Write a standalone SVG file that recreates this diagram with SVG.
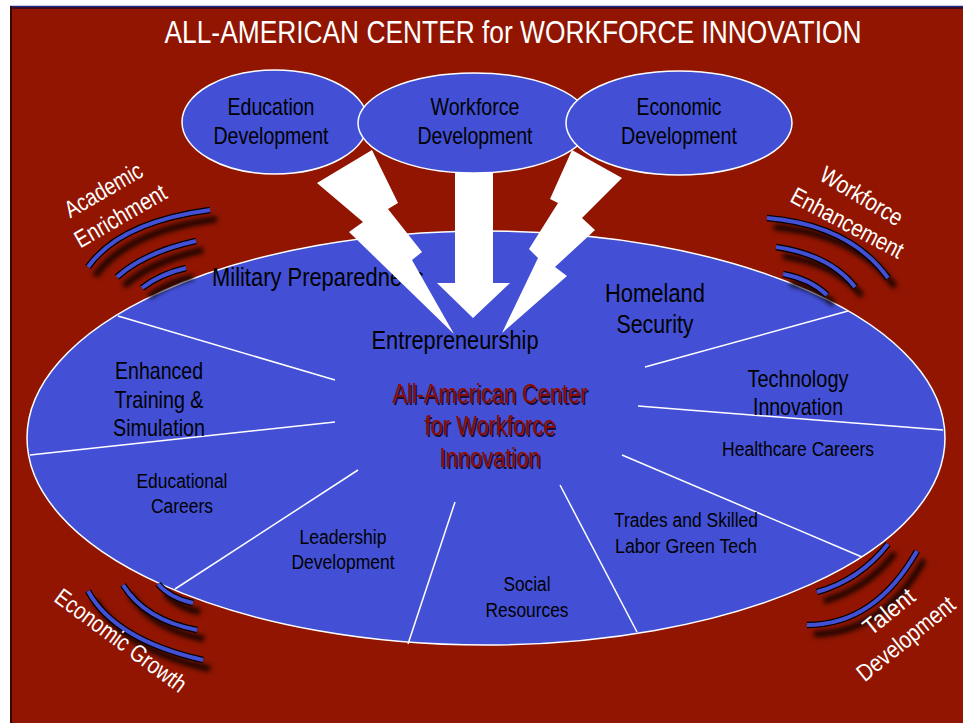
<svg xmlns="http://www.w3.org/2000/svg" xmlns:xlink="http://www.w3.org/1999/xlink" width="963" height="723" viewBox="0 0 963 723">
<style>
.bg{fill:#911500}
.oval{fill:#4350D6;stroke:#ffffff;stroke-width:1.5}
.div{stroke:#ffffff;stroke-width:1.5;fill:none}
.bolt{fill:#ffffff}
text{font-family:"Liberation Sans Narrow","Liberation Sans",Arial,sans-serif;text-anchor:middle}
.k{fill:#000000}
.w{fill:#ffffff}
.c{fill:#8c0d00}
.cs{fill:#1c0c34}
.bs{fill:none;stroke:#000;stroke-width:6;opacity:0.85}
.bo{fill:none;stroke:#000;stroke-width:6.5}
.bi{fill:none;stroke:#4350D6;stroke-width:4}
</style>
<defs>
<filter id="blur" x="-20%" y="-20%" width="140%" height="140%"><feGaussianBlur stdDeviation="2.5"/></filter>
<path id="a1" d="M88,267 Q120,222 210,210"/>
<path id="a2" d="M117,277 Q145,252 196,241"/>
<path id="a3" d="M142,288 Q160,274 186,268"/>
<path id="b1" d="M767,218 Q850,225 888,278"/>
<path id="b2" d="M776,247 Q830,255 855,287"/>
<path id="b3" d="M783,274 Q810,279 827,295"/>
<path id="c1" d="M88,591 Q115,640 203,660"/>
<path id="c2" d="M123,585 Q145,620 197,630"/>
<path id="c3" d="M158,584 Q170,598 193,603"/>
<path id="d1" d="M817,592 Q860,580 888,544"/>
<path id="d2" d="M807,625 Q875,625 917,551"/>
</defs>

<rect x="0" y="0" width="963" height="723" fill="#ffffff"/>
<rect class="bg" x="10" y="6" width="953" height="717"/>
<line x1="10" y1="6.5" x2="963" y2="6.5" stroke="#1a2a9a" stroke-width="1.5"/>
<line x1="10" y1="8" x2="963" y2="8" stroke="#2a0c20" stroke-width="1.5"/>
<line x1="11" y1="6" x2="11" y2="723" stroke="#3a0600" stroke-width="2"/>

<text class="w" x="513" y="43" font-size="31" textLength="697" lengthAdjust="spacingAndGlyphs">ALL-AMERICAN CENTER for WORKFORCE INNOVATION</text>

<g id="main-oval">
<ellipse class="oval" cx="486" cy="438" rx="459" ry="207"/>
</g>

<g id="connectors">
<line class="div" x1="335" y1="380" x2="118" y2="316"/>
<line class="div" x1="335" y1="422" x2="30" y2="455"/>
<line class="div" x1="358" y1="470" x2="175" y2="589"/>
<line class="div" x1="455" y1="502" x2="408" y2="644"/>
<line class="div" x1="560" y1="485" x2="637" y2="632"/>
<line class="div" x1="622" y1="455" x2="862" y2="557"/>
<line class="div" x1="638" y1="406" x2="943" y2="430"/>
<line class="div" x1="645" y1="367" x2="848" y2="311"/>
</g>

<g id="sector-military"><text class="k" x="318" y="286" font-size="26" textLength="212" lengthAdjust="spacingAndGlyphs">Military Preparedness</text></g>

<g id="arrows">
<polygon class="bolt" points="372,150 398,203 388,209 422,252 412,260 454,334 349,232 363,222 317,183"/>
<polygon class="bolt" points="455,160 493,160 493,283 510,283 473,318 437,283 455,283"/>
<polygon class="bolt" points="572,150 622,178 582,218 595,230 555,267 567,276 502,333 538,258 529,249 558,203 550,199"/>
</g>

<g id="education-development">
<ellipse class="oval" cx="275" cy="122" rx="93" ry="52"/>
<text class="k" x="271" y="115" font-size="24" textLength="87" lengthAdjust="spacingAndGlyphs">Education</text>
<text class="k" x="271" y="144" font-size="24" textLength="115" lengthAdjust="spacingAndGlyphs">Development</text>
</g>
<g id="workforce-development">
<ellipse class="oval" cx="474" cy="123" rx="116" ry="50"/>
<text class="k" x="475" y="115" font-size="24" textLength="89" lengthAdjust="spacingAndGlyphs">Workforce</text>
<text class="k" x="475" y="144" font-size="24" textLength="115" lengthAdjust="spacingAndGlyphs">Development</text>
</g>
<g id="economic-development">
<ellipse class="oval" cx="679" cy="123" rx="113" ry="52"/>
<text class="k" x="679" y="115" font-size="24" textLength="85" lengthAdjust="spacingAndGlyphs">Economic</text>
<text class="k" x="679" y="144" font-size="24" textLength="116" lengthAdjust="spacingAndGlyphs">Development</text>
</g>

<g id="sector-entrepreneurship"><text class="k" x="455" y="349" font-size="26" textLength="167" lengthAdjust="spacingAndGlyphs">Entrepreneurship</text></g>
<g id="sector-homeland">
<text class="k" x="655" y="302" font-size="26" textLength="100" lengthAdjust="spacingAndGlyphs">Homeland</text>
<text class="k" x="655" y="333" font-size="26" textLength="77" lengthAdjust="spacingAndGlyphs">Security</text>
</g>
<g id="sector-training">
<text class="k" x="159" y="379" font-size="24" textLength="88" lengthAdjust="spacingAndGlyphs">Enhanced</text>
<text class="k" x="159" y="408" font-size="24" textLength="89" lengthAdjust="spacingAndGlyphs">Training &amp;</text>
<text class="k" x="159" y="436" font-size="24" textLength="92" lengthAdjust="spacingAndGlyphs">Simulation</text>
</g>
<g id="sector-technology">
<text class="k" x="798" y="387" font-size="24" textLength="101" lengthAdjust="spacingAndGlyphs">Technology</text>
<text class="k" x="798" y="415" font-size="24" textLength="90" lengthAdjust="spacingAndGlyphs">Innovation</text>
</g>
<g id="sector-healthcare"><text class="k" x="798" y="456" font-size="20" textLength="152" lengthAdjust="spacingAndGlyphs">Healthcare Careers</text></g>
<g id="sector-educational">
<text class="k" x="182" y="488" font-size="20" textLength="91" lengthAdjust="spacingAndGlyphs">Educational</text>
<text class="k" x="182" y="513" font-size="20" textLength="62" lengthAdjust="spacingAndGlyphs">Careers</text>
</g>
<g id="sector-leadership">
<text class="k" x="343" y="544" font-size="20" textLength="87" lengthAdjust="spacingAndGlyphs">Leadership</text>
<text class="k" x="343" y="569" font-size="20" textLength="103" lengthAdjust="spacingAndGlyphs">Development</text>
</g>
<g id="sector-social">
<text class="k" x="527" y="591" font-size="20" textLength="47" lengthAdjust="spacingAndGlyphs">Social</text>
<text class="k" x="527" y="617" font-size="20" textLength="83" lengthAdjust="spacingAndGlyphs">Resources</text>
</g>
<g id="sector-trades">
<text class="k" x="686" y="527" font-size="20" textLength="144" lengthAdjust="spacingAndGlyphs">Trades and Skilled</text>
<text class="k" x="686" y="553" font-size="20" textLength="142" lengthAdjust="spacingAndGlyphs">Labor Green Tech</text>
</g>

<g id="center">
<text class="cs" x="491.5" y="404.5" font-size="27" textLength="195" lengthAdjust="spacingAndGlyphs">All-American Center</text>
<text class="cs" x="491.5" y="436.5" font-size="27" textLength="131" lengthAdjust="spacingAndGlyphs">for Workforce</text>
<text class="cs" x="491.5" y="468.5" font-size="27" textLength="101" lengthAdjust="spacingAndGlyphs">Innovation</text>
<text class="c" x="490" y="403" font-size="27" textLength="195" lengthAdjust="spacingAndGlyphs">All-American Center</text>
<text class="c" x="490" y="435" font-size="27" textLength="131" lengthAdjust="spacingAndGlyphs">for Workforce</text>
<text class="c" x="490" y="467" font-size="27" textLength="101" lengthAdjust="spacingAndGlyphs">Innovation</text>
</g>

<g id="academic-enrichment">
<g filter="url(#blur)" transform="translate(7,9)"><use href="#a1" class="bs"/><use href="#a2" class="bs"/><use href="#a3" class="bs"/></g>
<use href="#a1" class="bo"/><use href="#a2" class="bo"/><use href="#a3" class="bo"/>
<use href="#a1" class="bi"/><use href="#a2" class="bi"/><use href="#a3" class="bi"/>
<text class="w" transform="translate(107.5,197) rotate(-30)" font-size="24" textLength="86" lengthAdjust="spacingAndGlyphs">Academic</text>
<text class="w" transform="translate(124.5,223) rotate(-30)" font-size="24" textLength="102" lengthAdjust="spacingAndGlyphs">Enrichment</text>
</g>

<g id="workforce-enhancement">
<g filter="url(#blur)" transform="translate(7,9)"><use href="#b1" class="bs"/><use href="#b2" class="bs"/><use href="#b3" class="bs"/></g>
<use href="#b1" class="bo"/><use href="#b2" class="bo"/><use href="#b3" class="bo"/>
<use href="#b1" class="bi"/><use href="#b2" class="bi"/><use href="#b3" class="bi"/>
<text class="w" transform="translate(857.5,203) rotate(31)" font-size="24" textLength="92" lengthAdjust="spacingAndGlyphs">Workforce</text>
<text class="w" transform="translate(843.5,230) rotate(28)" font-size="24" textLength="124" lengthAdjust="spacingAndGlyphs">Enhancement</text>
</g>

<g id="economic-growth">
<g filter="url(#blur)" transform="translate(7,9)"><use href="#c1" class="bs"/><use href="#c2" class="bs"/><use href="#c3" class="bs"/></g>
<use href="#c1" class="bo"/><use href="#c2" class="bo"/><use href="#c3" class="bo"/>
<use href="#c1" class="bi"/><use href="#c2" class="bi"/><use href="#c3" class="bi"/>
<text class="w" transform="translate(116,647) rotate(36.4)" font-size="24" textLength="157" lengthAdjust="spacingAndGlyphs">Economic Growth</text>
</g>

<g id="talent-development">
<g filter="url(#blur)" transform="translate(7,9)"><use href="#d1" class="bs"/><use href="#d2" class="bs"/></g>
<use href="#d1" class="bo"/><use href="#d2" class="bo"/>
<use href="#d1" class="bi"/><use href="#d2" class="bi"/>
<text class="w" transform="translate(894,618) rotate(-39)" font-size="24" textLength="59" lengthAdjust="spacingAndGlyphs">Talent</text>
<text class="w" transform="translate(911,645) rotate(-39)" font-size="24" textLength="119" lengthAdjust="spacingAndGlyphs">Development</text>
</g>
</svg>
